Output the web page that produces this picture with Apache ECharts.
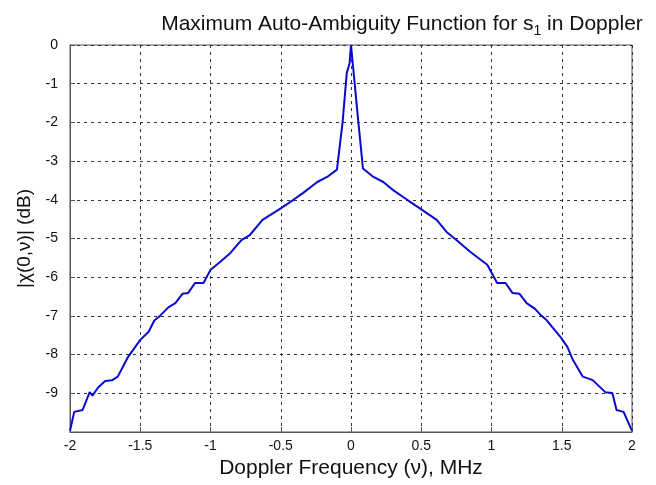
<!DOCTYPE html>
<html>
<head>
<meta charset="utf-8">
<script src="https://cdn.jsdelivr.net/npm/echarts@6/dist/echarts.min.js"></script>
<style>html,body{margin:0;padding:0;background:#fff;}#c{width:656px;height:485px;}</style>
</head>
<body>
<div id="c"></div>
<script>
var freqMHz = [-2.00,-1.97,-1.91,-1.86,-1.84,-1.80,-1.75,-1.70,-1.66,-1.59,-1.50,-1.44,-1.40,-1.36,-1.30,-1.25,-1.20,-1.16,-1.11,-1.05,-1.00,-0.93,-0.86,-0.78,-0.72,-0.63,-0.50,-0.41,-0.34,-0.24,-0.17,-0.10,-0.06,-0.03,-0.01,0.00,0.015,0.05,0.085,0.16,0.23,0.30,0.40,0.49,0.61,0.68,0.75,0.85,0.97,1.04,1.10,1.15,1.20,1.25,1.31,1.35,1.39,1.49,1.54,1.58,1.65,1.72,1.81,1.86,1.89,1.94,2.00];
var ambigDB = [-9.97,-9.48,-9.43,-8.97,-9.06,-8.85,-8.68,-8.66,-8.57,-8.08,-7.62,-7.41,-7.12,-7.00,-6.78,-6.67,-6.43,-6.41,-6.15,-6.15,-5.81,-5.60,-5.38,-5.04,-4.91,-4.52,-4.22,-4.00,-3.82,-3.54,-3.41,-3.22,-2.00,-0.72,-0.47,0.00,-0.57,-1.90,-3.19,-3.41,-3.54,-3.75,-4.00,-4.22,-4.52,-4.83,-5.04,-5.35,-5.68,-6.15,-6.15,-6.41,-6.43,-6.67,-6.82,-6.98,-7.10,-7.54,-7.80,-8.14,-8.57,-8.66,-8.97,-8.99,-9.43,-9.48,-9.97];
var yTicks = [0,-1,-2,-3,-4,-5,-6,-7,-8,-9];

var pts = freqMHz.map(function(f,i){return [f, ambigDB[i]];});
var font = '"Liberation Sans", Arial, sans-serif';
var chart = echarts.init(document.getElementById('c'));
chart.setOption({
  animation:false,
  backgroundColor:'#fff',
  title:{
    text:'Maximum Auto-Ambiguity Function for s{sub|1} in Doppler',
    left:397, top:6, textAlign:'center',
    textStyle:{fontFamily:font,fontSize:21,fontWeight:'normal',color:'#111',
      rich:{sub:{fontFamily:font,fontSize:14,color:'#111',padding:[13,0,0,0]}}}
  },
  grid:{left:70,right:24,top:45,bottom:53,show:true,borderColor:'#555',borderWidth:1,backgroundColor:'#fff'},
  xAxis:{
    type:'value',min:-2,max:2,interval:0.5,
    name:'Doppler Frequency (\u03bd), MHz',nameLocation:'middle',nameGap:26,
    nameTextStyle:{fontFamily:font,fontSize:21,color:'#111'},
    axisLine:{show:true,onZero:false,lineStyle:{color:'#555'}},
    axisTick:{show:true,inside:true,length:5,lineStyle:{color:'#555'}},
    axisLabel:{fontFamily:font,fontSize:14,color:'#111',margin:7},
    splitLine:{show:true,lineStyle:{color:'#333',type:[3,4],width:1}}
  },
  yAxis:{
    type:'value',min:-10,max:0,interval:1,
    name:'|\u03c7(0,\u03bd)| (dB)',nameLocation:'middle',nameGap:30,nameRotate:90,
    nameTextStyle:{fontFamily:font,fontSize:19,color:'#111'},
    axisLine:{show:true,onZero:false,lineStyle:{color:'#555'}},
    axisTick:{show:true,inside:true,length:5,lineStyle:{color:'#555'}},
    axisLabel:{fontFamily:font,fontSize:14,color:'#111',margin:12,
      formatter:function(v){return yTicks.indexOf(v)>=0 ? String(v) : '';}},
    splitLine:{show:true,lineStyle:{color:'#333',type:[3,4],width:1}}
  },
  series:[{
    type:'line',data:pts,showSymbol:false,symbol:'none',
    lineStyle:{color:'#0a0acc',width:2},
    clip:true
  }]
});
</script>
</body>
</html>
